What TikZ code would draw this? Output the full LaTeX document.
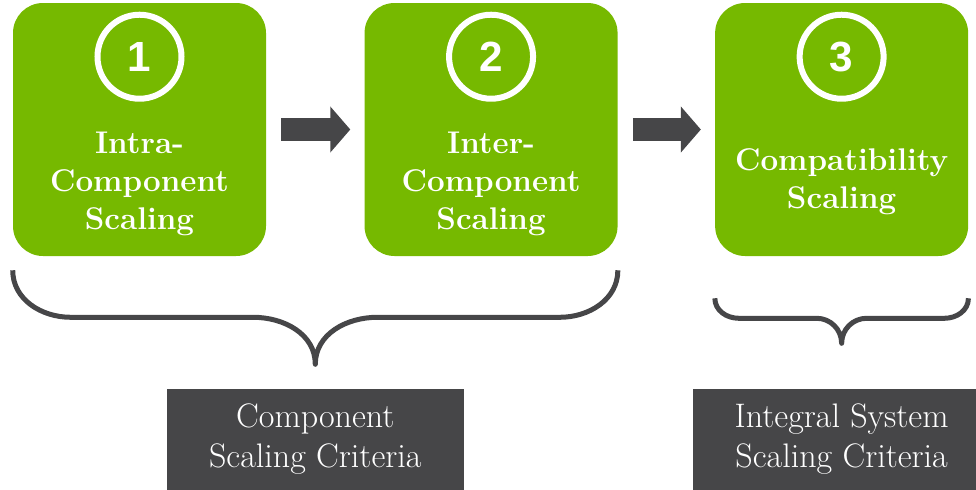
\documentclass[tikz,border=0pt]{standalone}
\usepackage{fontspec}
\usepackage{tikz}
\usetikzlibrary{calc}
\usetikzlibrary{positioning}
\usetikzlibrary{arrows.meta}
\newfontfamily\numfont{Liberation Sans}
\definecolor{stagegreen}{HTML}{76B900}
\definecolor{stagegray}{HTML}{464648}

\begin{document}
\begin{tikzpicture}
  \tikzset{stagebox/.style={rectangle, rounded corners=0.75cm, fill=stagegreen, minimum width=6.325cm, minimum height=6.325cm, inner sep=0pt}};
  \tikzset{stagenum/.style={circle, draw=white, line width=0.15cm, minimum size=2.1cm, inner sep=0pt, text=white, font=\numfont\bfseries\fontsize{30}{30}\selectfont}};
  \tikzset{stagetext/.style={text=white, align=center, font=\bfseries\fontsize{22.3}{27.2}\selectfont}};
  \tikzset{stagearrow/.style={line width=0.575cm, draw=stagegray, -{Triangle[length=0.5cm, width=1.125cm]}}};
  \tikzset{groupbrace/.style={line width=0.125cm, line join=round, draw=stagegray}};
  \tikzset{criteria/.style={rectangle, fill=stagegray, text=white, align=center, inner sep=0pt, minimum height=2.525cm, font=\fontsize{24.2}{28.5}\selectfont}};

  \path[use as bounding box, clip] (0,0) rectangle (24.4,-12.225);

  \node[stagebox] (s1) at (3.4875,-3.2375) {};
  \node[stagebox, right=2.45cm of s1] (s2) {};
  \node[stagebox, right=2.425cm of s2] (s3) {};

  \node[stagenum] (n1) at ([yshift=-1.35cm]s1.north) {1};
  \node[stagenum] (n2) at ([yshift=-1.35cm]s2.north) {2};
  \node[stagenum] (n3) at ([yshift=-1.35cm]s3.north) {3};

  \node[stagetext] (t1) at ([yshift=-1.36cm]s1.center) {Intra-\\Component\\Scaling};
  \node[stagetext] (t2) at ([yshift=-1.36cm]s2.center) {Inter-\\Component\\Scaling};
  \node[stagetext] (t3) at ([yshift=-1.3cm]s3.center) {Compatibility\\Scaling};

  \draw[stagearrow, shorten <=0.375cm, shorten >=0.35cm] (s1) -- (s2);
  \draw[stagearrow, shorten <=0.375cm, shorten >=0.35cm] (s2) -- (s3);

  % brace under stages 1 and 2
  \coordinate (b1l) at ([yshift=-0.35cm]s1.south west);
  \coordinate (b1r) at ([yshift=-0.35cm]s2.south east);
  \coordinate (tip1) at ($(b1l)!0.5!(b1r)+(0,-2.35)$);
  \draw[groupbrace] (b1l) to[out=-90,in=180] ++(1.45,-1.175) -- ($(tip1)+(-1.55,1.175)$)
    to[out=0,in=90] (tip1) to[out=90,in=180] ++(1.55,1.175) -- ($(b1r)+(-1.45,-1.175)$)
    to[out=0,in=-90] (b1r);

  % brace under stage 3
  \coordinate (b2l) at ([yshift=-1.05cm]s3.south west);
  \coordinate (b2r) at ([yshift=-1.05cm]s3.south east);
  \coordinate (tip2) at ($(b2l)!0.5!(b2r)+(0,-1.125)$);
  \draw[groupbrace] (b2l) to[out=-90,in=180] ++(0.6,-0.5) -- ($(tip2)+(-0.625,0.625)$)
    to[out=0,in=90] (tip2) to[out=90,in=180] ++(0.625,0.625) -- ($(b2r)+(-0.6,-0.5)$)
    to[out=0,in=-90] (b2r);

  \node[criteria, minimum width=7.425cm, below=0.6cm of tip1] (c1) {Component\\Scaling Criteria};
  \node[criteria, minimum width=7.45cm, below=1.125cm of tip2] (c2) {Integral System\\Scaling Criteria};
\end{tikzpicture}
\end{document}
